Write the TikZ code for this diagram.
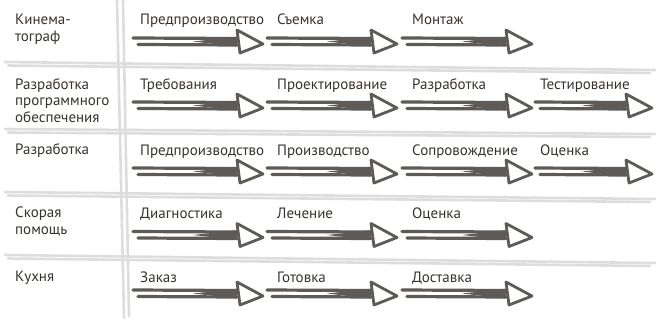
\documentclass[tikz,border=0pt]{standalone}
\usepackage{fontspec}
\setmainfont{PT Sans}
\usepackage{tikz}
\usepackage{xcolor}
\definecolor{arrowgrey}{RGB}{94,90,87}
\definecolor{gridgrey}{RGB}{221,221,221}
\definecolor{textbrown}{RGB}{56,50,46}

\tikzset{
    gridline/.style={draw=gridgrey, line width=2.6pt, line cap=round},
    rowlabel/.style={anchor=north west, inner sep=0pt, align=left, text=textbrown, font=\fontsize{15}{16.5}\selectfont},
    steplabel/.style={anchor=base west, inner sep=0pt, text=textbrown, font=\fontsize{15}{16.5}\selectfont},
    shaft/.style={draw=arrowgrey, line width=3.2pt, line cap=round},
    pics/flowarrow/.style={code={
        \draw[shaft] (0,-3.5) -- (#1,-3);
        \draw[shaft] (5,3) -- (#1,3.5);
        \fill[arrowgrey] (#1-44,0) -- (#1,-4.8) -- (#1,5) -- cycle;
        \filldraw[fill=white, draw=arrowgrey, line width=2.8pt, line join=round] (#1,-11.5) -- (#1+26,2.5) -- (#1+3,11.5) -- cycle;
    }},
    pics/flowarrow/.default=104
}

\begin{document}
\begin{tikzpicture}[x=1pt, y=-1pt]
            \useasboundingbox (0,0) rectangle (660,321);

            % Grid
            \draw[gridline] (117,0) -- (124,318);
            \draw[gridline] (123,0) -- (129,316);
            \draw[gridline] (5,62) -- (655,70);
            \draw[gridline] (8,65.5) -- (650,73);
            \draw[gridline] (5,129) -- (655,134);
            \draw[gridline] (8,132.5) -- (650,137);
            \draw[gridline] (5,192) -- (655,199);
            \draw[gridline] (8,195.5) -- (650,202);
            \draw[gridline] (5,255) -- (655,263);
            \draw[gridline] (8,258.5) -- (650,266);

            % Cinema
            \node[rowlabel] (kino) at (15,14) {Кинема-\\тограф};
            \node[steplabel] (kino1) at (140,25) {Предпроизводство};
            \node[steplabel] (kino2) at (277,25) {Съемка};
            \node[steplabel] (kino3) at (412,25) {Монтаж};
            \coordinate (kinoA) at (133,41.5);
            \coordinate (kinoB) at (267,41.5);
            \coordinate (kinoC) at (402,41.5);
            \pic at (kinoA) {flowarrow};
            \pic at (kinoB) {flowarrow};
            \pic at (kinoC) {flowarrow};

            % Software
            \node[rowlabel] (soft) at (15,78) {Разработка\\программного\\обеспечения};
            \node[steplabel] (soft1) at (140,89) {Требования};
            \node[steplabel] (soft2) at (277,89) {Проектирование};
            \node[steplabel] (soft3) at (412,89) {Разработка};
            \node[steplabel] (soft4) at (540,89) {Тестирование};
            \coordinate (softA) at (133,105.5);
            \coordinate (softB) at (267,105.5);
            \coordinate (softC) at (402,105.5);
            \coordinate (softD) at (535,105.5);
            \pic at (softA) {flowarrow};
            \pic at (softB) {flowarrow};
            \pic at (softC) {flowarrow};
            \pic at (softD) {flowarrow=91};

            % Development
            \node[rowlabel] (dev) at (15,143) {Разработка};
            \node[steplabel] (dev1) at (140,155) {Предпроизводство};
            \node[steplabel] (dev2) at (277,155) {Производство};
            \node[steplabel] (dev3) at (412,155) {Сопровождение};
            \node[steplabel] (dev4) at (540,155) {Оценка};
            \coordinate (devA) at (133,171.5);
            \coordinate (devB) at (267,171.5);
            \coordinate (devC) at (402,171.5);
            \coordinate (devD) at (535,171.5);
            \pic at (devA) {flowarrow};
            \pic at (devB) {flowarrow};
            \pic at (devC) {flowarrow};
            \pic at (devD) {flowarrow=91};

            % Ambulance
            \node[rowlabel] (med) at (15,207) {Скорая\\помощь};
            \node[steplabel] (med1) at (140,218) {Диагностика};
            \node[steplabel] (med2) at (277,218) {Лечение};
            \node[steplabel] (med3) at (412,218) {Оценка};
            \coordinate (medA) at (133,235);
            \coordinate (medB) at (267,235);
            \coordinate (medC) at (402,235);
            \pic at (medA) {flowarrow};
            \pic at (medB) {flowarrow};
            \pic at (medC) {flowarrow};

            % Kitchen
            \node[rowlabel] (cook) at (15,271) {Кухня};
            \node[steplabel] (cook1) at (140,282) {Заказ};
            \node[steplabel] (cook2) at (277,282) {Готовка};
            \node[steplabel] (cook3) at (412,282) {Доставка};
            \coordinate (cookA) at (133,293.5);
            \coordinate (cookB) at (267,293.5);
            \coordinate (cookC) at (402,293.5);
            \pic at (cookA) {flowarrow};
            \pic at (cookB) {flowarrow};
            \pic at (cookC) {flowarrow};
        \end{tikzpicture}
\end{document}
